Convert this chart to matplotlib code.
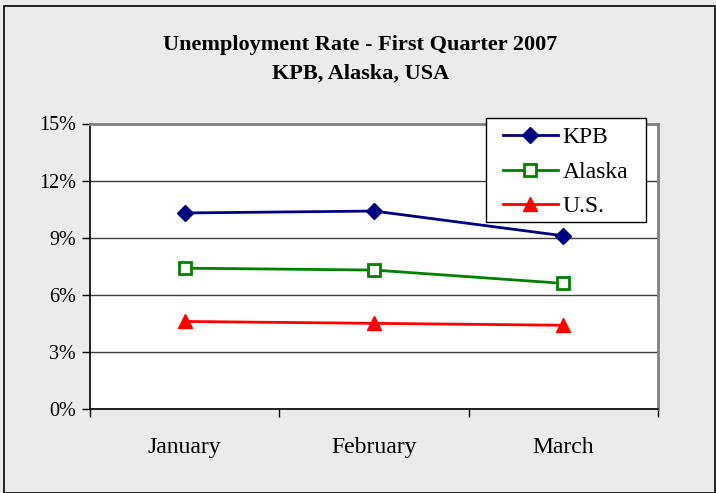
import matplotlib
matplotlib.use("Agg")
import matplotlib.pyplot as plt
from matplotlib.patches import Rectangle
from matplotlib.ticker import FixedLocator, NullFormatter, FuncFormatter

months = ["January", "February", "March"]
kpb = [10.3, 10.4, 9.1]
alaska = [7.4, 7.3, 6.6]
us = [4.6, 4.5, 4.4]
yticks = [0, 3, 6, 9, 12, 15]

plt.rcParams['font.family'] = ['Liberation Serif', 'DejaVu Serif']

W, H = 716, 493
fig = plt.figure(figsize=(W / 100, H / 100), dpi=100)
fig.patch.set_facecolor('#EBEBEB')
fig.patches.append(Rectangle((4/W, 0.0), 711/W, 1 - 6/H, transform=fig.transFigure,
                             fill=False, edgecolor='black', linewidth=1.2))

ax = fig.add_axes([90/W, 1 - 409/H, (658 - 90)/W, (409 - 123.5)/H])
ax.set_facecolor('white')

x = list(range(len(months)))
ax.plot(x, kpb, color='#000080', marker='D', markersize=8, linewidth=2, label='KPB')
ax.plot(x, alaska, color='#008000', marker='s', markersize=9, markerfacecolor='white',
        markeredgewidth=2, linewidth=2, label='Alaska')
ax.plot(x, us, color='#FF0000', marker='^', markersize=10, linewidth=2, label='U.S.')

ax.set_xlim(-0.5, 2.5)
ax.set_ylim(0, 15)
ax.set_yticks(yticks)
ax.yaxis.set_major_formatter(FuncFormatter(lambda v, p: f"{int(v)}%"))
ax.yaxis.grid(True, color='#404040', linewidth=1)
ax.set_axisbelow(True)

ax.xaxis.set_major_locator(FixedLocator([-0.5, 0.5, 1.5, 2.5]))
ax.xaxis.set_major_formatter(NullFormatter())
ax.xaxis.set_minor_locator(FixedLocator(x))
ax.set_xticklabels(months, minor=True)
ax.tick_params(axis='x', which='minor', length=0, pad=20, labelsize=17)
ax.tick_params(axis='x', which='major', length=6, direction='out', width=1)
ax.tick_params(axis='y', length=6, direction='out', width=1, labelsize=14.5, pad=4)

for s in ['top', 'right']:
    ax.spines[s].set_color('#808080')
    ax.spines[s].set_linewidth(2)
for s in ['left', 'bottom']:
    ax.spines[s].set_color('black')
    ax.spines[s].set_linewidth(1.2)

# legend frame drawn separately (box 486..646 x 118..222 px)
frame = Rectangle((486/W, 1 - 222/H), (646 - 486)/W, (222 - 118)/H, transform=fig.transFigure,
                  facecolor='white', edgecolor='black', linewidth=1, zorder=4, clip_on=False)
ax.add_patch(frame)

leg = ax.legend(loc='upper left', bbox_to_anchor=(493.5/W, 1 - 117.5/H),
                bbox_transform=fig.transFigure,
                frameon=False, fontsize=17,
                handlelength=2.33, handletextpad=0.2, labelspacing=0.55, borderpad=0.4,
                borderaxespad=0)
leg.set_zorder(5)

fig.text(0.503, 1 - 45/H, "Unemployment Rate - First Quarter 2007", ha='center', va='center',
         fontsize=16, fontweight='bold')
fig.text(0.503, 1 - 74/H, "KPB, Alaska, USA", ha='center', va='center',
         fontsize=16, fontweight='bold')

fig.savefig("out.png", dpi=100, facecolor=fig.get_facecolor())
